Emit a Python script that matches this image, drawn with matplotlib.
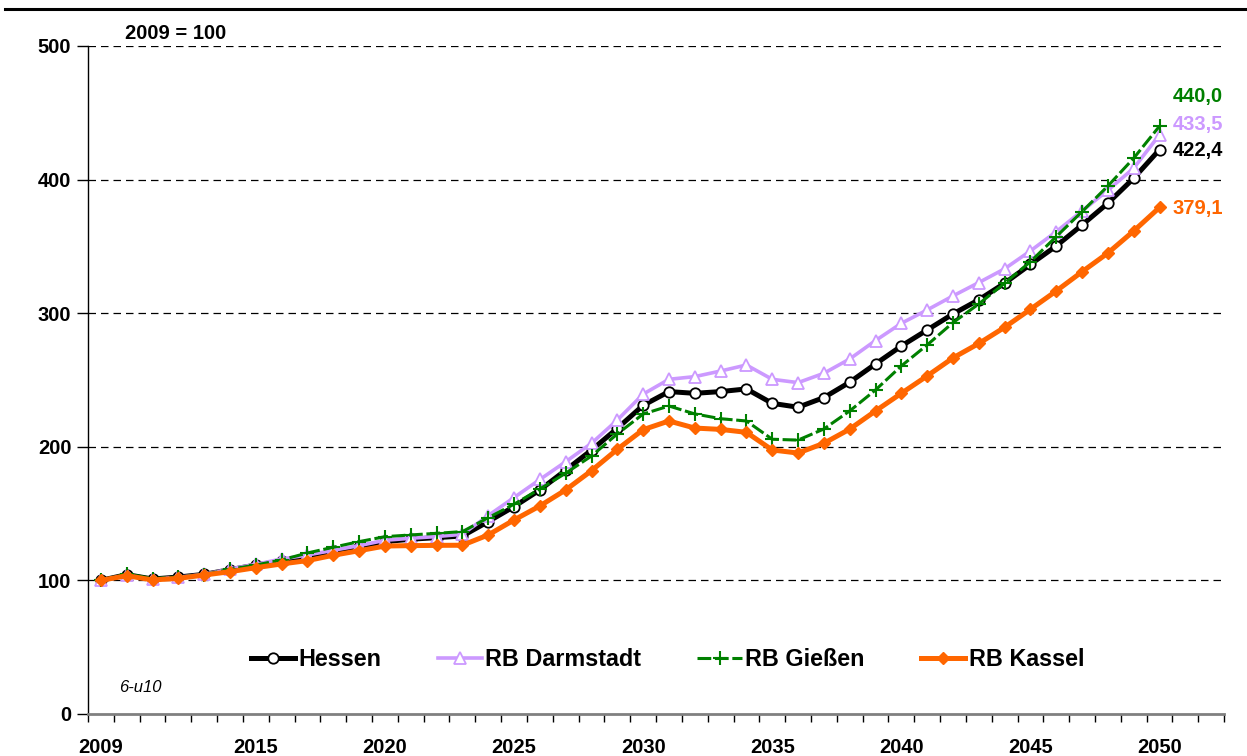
import numpy as np
import matplotlib.pyplot as plt
from matplotlib.lines import Line2D
from matplotlib.ticker import FixedLocator, MultipleLocator

plt.rcParams['font.family'] = ['Liberation Sans', 'DejaVu Sans']
plt.rcParams['font.weight'] = 'bold'

# index values, 2009 = 100
years = np.arange(2009, 2051)
hessen = [100, 104.3, 101, 102.5, 104.5, 108, 111.5, 114.5, 117.5, 121.5,
          125, 129, 130.8, 132, 133.2, 144, 155.2, 167.7, 182.5, 197.5,
          213.8, 231, 241.3, 240, 241.3, 243.3, 232.5, 229.6, 236.8, 248.3,
          262, 275.4, 287.4, 299.4, 310, 322.4, 336.5, 350.3, 366, 382.3,
          401, 422.4]
darmstadt = [100, 103.8, 100.8, 102.3, 104.5, 108.5, 112, 116, 119, 122.5,
             126, 130, 131.5, 132.8, 134.5, 148.5, 162, 175.5, 188.8, 202.6,
             220, 239.4, 250.5, 252.5, 256.7, 261.2, 250.5, 248, 255, 265.7,
             279.5, 292.4, 302.4, 312.9, 322.9, 333.2, 346.6, 361, 376.5, 392,
             408.5, 433.5]
giessen = [100, 104.8, 101.3, 102.5, 104.3, 108.3, 111.5, 115.3, 120.5, 124.8,
           129, 132.7, 134, 135.2, 136.5, 146.9, 157, 168.4, 180.2, 193.1,
           209.6, 224.5, 230.5, 224.6, 221, 219.3, 205.6, 205, 213.3, 226.8,
           242.5, 260.5, 276.2, 292.9, 306.9, 322.4, 338.5, 357.3, 376, 395.2,
           416, 440.0]
kassel = [100, 103.5, 100.3, 101.5, 104, 106.5, 109.5, 112.3, 114.8, 118.8,
          122.2, 125.7, 126, 126.2, 126.3, 134, 145.2, 155.7, 167.7, 182.1,
          198.1, 212.8, 219.3, 214, 213, 210.8, 197.6, 195.3, 202.6, 213.2,
          226.8, 240, 253, 266.5, 277.3, 289.4, 302.9, 316.6, 331, 345,
          361.5, 379.1]

names = ['Hessen', 'RB Darmstadt', 'RB Gießen', 'RB Kassel']
end_labels = ['422,4', '433,5', '440,0', '379,1']
label_y = [421.5, 441, 462.5, 378]
label_years = [2009] + list(range(2015, 2051, 5))

c_black = '#000000'
c_lav = '#CC99FF'
c_green = '#008000'
c_orange = '#FF6600'

fig = plt.figure(figsize=(12.47, 7.56), dpi=100)
ax = fig.add_axes([0.0706, 0.0556, 0.911, 0.8836])

ax.plot(years, hessen, color=c_black, lw=3.6, marker='o', ms=7.5,
        mfc='white', mec=c_black, mew=1.3, label=names[0])
ax.plot(years, darmstadt, color=c_lav, lw=2.6, marker='^', ms=8,
        mfc='white', mec=c_lav, mew=1.3, label=names[1])
ax.plot(years, giessen, color=c_green, lw=2.2, dashes=(4.5, 1.2),
        marker='+', ms=10, mec=c_green, mew=1.5, label=names[2])
ax.plot(years, kassel, color=c_orange, lw=3.6, marker='D', ms=6.5,
        mfc=c_orange, mec=c_orange, label=names[3])

# value labels at the end of each series
for txt, yv, col in zip(end_labels, label_y, [c_black, c_lav, c_green, c_orange]):
    ax.text(2050.5, yv, txt, color=col, fontsize=14.5, fontweight='bold',
            ha='left', va='center')

ax.set_xlim(2008.5, 2052.5)
ax.set_ylim(0, 500)

ax.xaxis.set_major_locator(FixedLocator(label_years))
ax.xaxis.set_minor_locator(FixedLocator(np.arange(2008.5, 2053, 1)))
ax.set_xticklabels([str(y) for y in label_years])
ax.tick_params(axis='x', which='major', length=0, pad=17, labelsize=14.5)
ax.tick_params(axis='x', which='minor', length=6, width=1, color='black')

ax.yaxis.set_major_locator(MultipleLocator(100))
ax.tick_params(axis='y', length=8, width=1, pad=4, labelsize=14.5)

for v in range(100, 501, 100):
    ax.axhline(v, color='black', lw=0.9, dashes=(6, 4), zorder=0)

for s in ['top', 'right']:
    ax.spines[s].set_visible(False)
ax.spines['left'].set_linewidth(1)
ax.spines['bottom'].set_color('#808080')
ax.spines['bottom'].set_linewidth(2)

ax.text(2009.95, 502, '2009 = 100', fontsize=14.5, fontweight='bold',
        ha='left', va='bottom')
ax.text(2009.7, 14, '6-u10', fontsize=12, fontstyle='italic',
        fontweight='normal', ha='left', va='bottom')

leg = ax.legend(loc='center', bbox_to_anchor=(0.51, 0.081), ncol=4,
                frameon=False, fontsize=16.8, handlelength=1.9,
                columnspacing=2.4, handletextpad=0.15)
for t in leg.get_texts():
    t.set_fontweight('bold')

fig.add_artist(Line2D([0.004, 1.0], [0.988, 0.988], color='black', lw=2.2))

fig.savefig('out.png', dpi=100)
